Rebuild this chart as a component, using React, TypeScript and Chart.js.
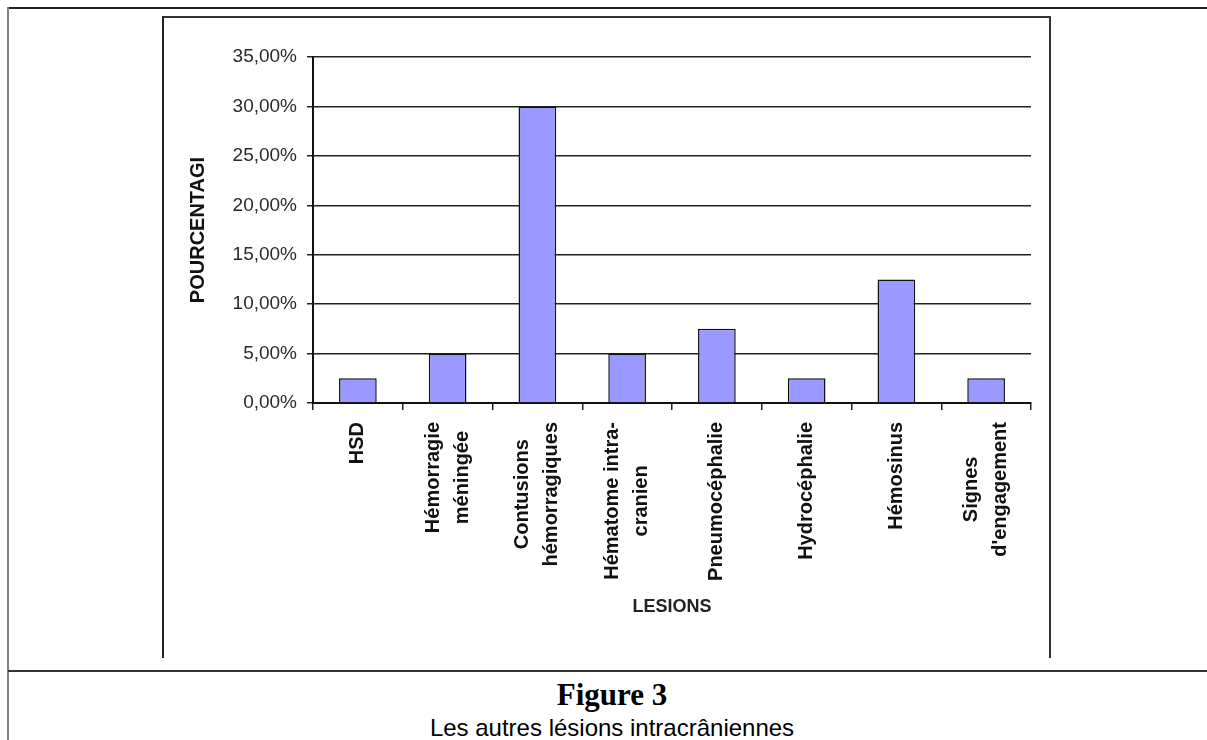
import React, { useEffect, useRef } from "react";
import { Chart, registerables } from "chart.js";

Chart.register(...registerables);

const categories: string[][] = [
  ["HSD"],
  ["Hémorragie", "méningée"],
  ["Contusions", "hémorragiques"],
  ["Hématome intra-", "cranien"],
  ["Pneumocéphalie"],
  ["Hydrocéphalie"],
  ["Hémosinus"],
  ["Signes", "d'engagement"],
];

const percentages: number[] = [2.5, 5, 30, 5, 7.5, 2.5, 12.5, 2.5];

const yTickLabels: string[] = [
  "0,00%",
  "5,00%",
  "10,00%",
  "15,00%",
  "20,00%",
  "25,00%",
  "30,00%",
  "35,00%",
];

const yAxisTitle = "POURCENTAGI";
const xAxisTitle = "LESIONS";
const figureTitle = "Figure 3";
const figureSubtitle = "Les autres lésions intracrâniennes";

const SANS = "'Liberation Sans', Arial, sans-serif";

const xLabelPlugin = {
  id: "xLabelPlugin",
  afterDraw(chart: any) {
    const xs = chart.scales.x;
    const ctx = chart.ctx;
    const fontSize = 20;
    const lh = 29;
    const top = chart.chartArea.bottom + 19;
    ctx.save();
    ctx.font = `bold ${fontSize}px ${SANS}`;
    ctx.fillStyle = "#111";
    ctx.textAlign = "center";
    ctx.textBaseline = "middle";
    categories.forEach((lines, i) => {
      const cx = xs.getPixelForValue(i);
      const maxW = Math.max(...lines.map((l) => ctx.measureText(l).width));
      ctx.save();
      ctx.translate(cx, top);
      ctx.rotate(-Math.PI / 2);
      lines.forEach((line, j) => {
        const off = (j - (lines.length - 1) / 2) * lh;
        ctx.fillText(line, -maxW / 2, off);
      });
      ctx.restore();
    });
    ctx.restore();
  },
};

function BarChart() {
  const ref = useRef<HTMLCanvasElement | null>(null);
  useEffect(() => {
    if (!ref.current) return;
    const chart = new Chart(ref.current, {
      type: "bar",
      data: {
        labels: categories,
        datasets: [
          {
            data: percentages,
            backgroundColor: "#9999FF",
            borderColor: "#111",
            borderWidth: 1.5,
            barPercentage: 0.42,
            categoryPercentage: 1,
          },
        ],
      },
      options: {
        responsive: false,
        animation: false,
        devicePixelRatio: 1,
        layout: { padding: { left: 0, top: 39, right: 17, bottom: 0 } },
        plugins: {
          legend: { display: false },
          tooltip: { enabled: false },
        },
        scales: {
          x: {
            offset: true,
            grid: {
              display: true,
              drawOnChartArea: false,
              drawTicks: true,
              tickLength: 7,
              color: "#222",
              lineWidth: 1.5,
              offset: true,
            },
            border: { display: true, color: "#111", width: 2 },
            ticks: { display: false },
            title: {
              display: true,
              text: xAxisTitle,
              color: "#222",
              font: { family: SANS, size: 18, weight: "bold" },
              padding: { top: 0, bottom: 40 },
            },
            afterFit: (s: any) => {
              s.height = 255;
            },
          },
          y: {
            min: 0,
            max: 35,
            ticks: {
              stepSize: 5,
              callback: (_v: any, i: number) => yTickLabels[i],
              color: "#2a2a2a",
              font: { family: SANS, size: 19 },
              padding: 10,
            },
            grid: {
              color: "#222",
              lineWidth: 1.5,
              tickLength: 6,
              drawTicks: true,
            },
            border: { display: true, color: "#111", width: 2 },
            title: {
              display: true,
              text: yAxisTitle,
              color: "#111",
              font: { family: SANS, size: 20, weight: "bold" },
              padding: { top: 21, bottom: 0 },
            },
            afterFit: (s: any) => {
              s.width = 148;
            },
          },
        },
      },
      plugins: [xLabelPlugin],
    } as any);
    return () => chart.destroy();
  }, []);
  return (
    <canvas
      ref={ref}
      width={883}
      height={640}
      style={{ position: "absolute", left: 165, top: 18, width: 883, height: 640 }}
    />
  );
}

export default function App() {
  return (
    <div
      style={{
        position: "fixed",
        left: 0,
        top: 0,
        width: 1207,
        height: 740,
        overflow: "hidden",
        background: "#fff",
      }}
    >
      {/* outer frame: top and left borders, separator */}
      <div style={{ position: "absolute", left: 8, top: 7, width: 1199, height: 2, background: "#222" }} />
      <div style={{ position: "absolute", left: 7, top: 7, width: 2, height: 733, background: "#808080" }} />
      <div style={{ position: "absolute", left: 8, top: 670, width: 1199, height: 2, background: "#333" }} />
      {/* chart image box */}
      <div
        style={{
          position: "absolute",
          left: 162,
          top: 16,
          width: 889,
          height: 642,
          boxSizing: "border-box",
          borderLeft: "2px solid #222",
          borderTop: "2px solid #333",
          borderRight: "2px solid #333",
          background: "#fff",
        }}
      />
      <BarChart />
      <div
        style={{
          position: "absolute",
          left: 8,
          width: 1208,
          top: 679,
          textAlign: "center",
          fontFamily: "'Liberation Serif', 'Times New Roman', serif",
          fontWeight: "bold",
          fontSize: 31,
          lineHeight: "31px",
          color: "#000",
        }}
      >
        {figureTitle}
      </div>
      <div
        style={{
          position: "absolute",
          left: 8,
          width: 1208,
          top: 716,
          textAlign: "center",
          fontFamily: SANS,
          fontSize: 24,
          lineHeight: "24px",
          color: "#000",
          whiteSpace: "nowrap",
        }}
      >
        {figureSubtitle}
      </div>
    </div>
  );
}
